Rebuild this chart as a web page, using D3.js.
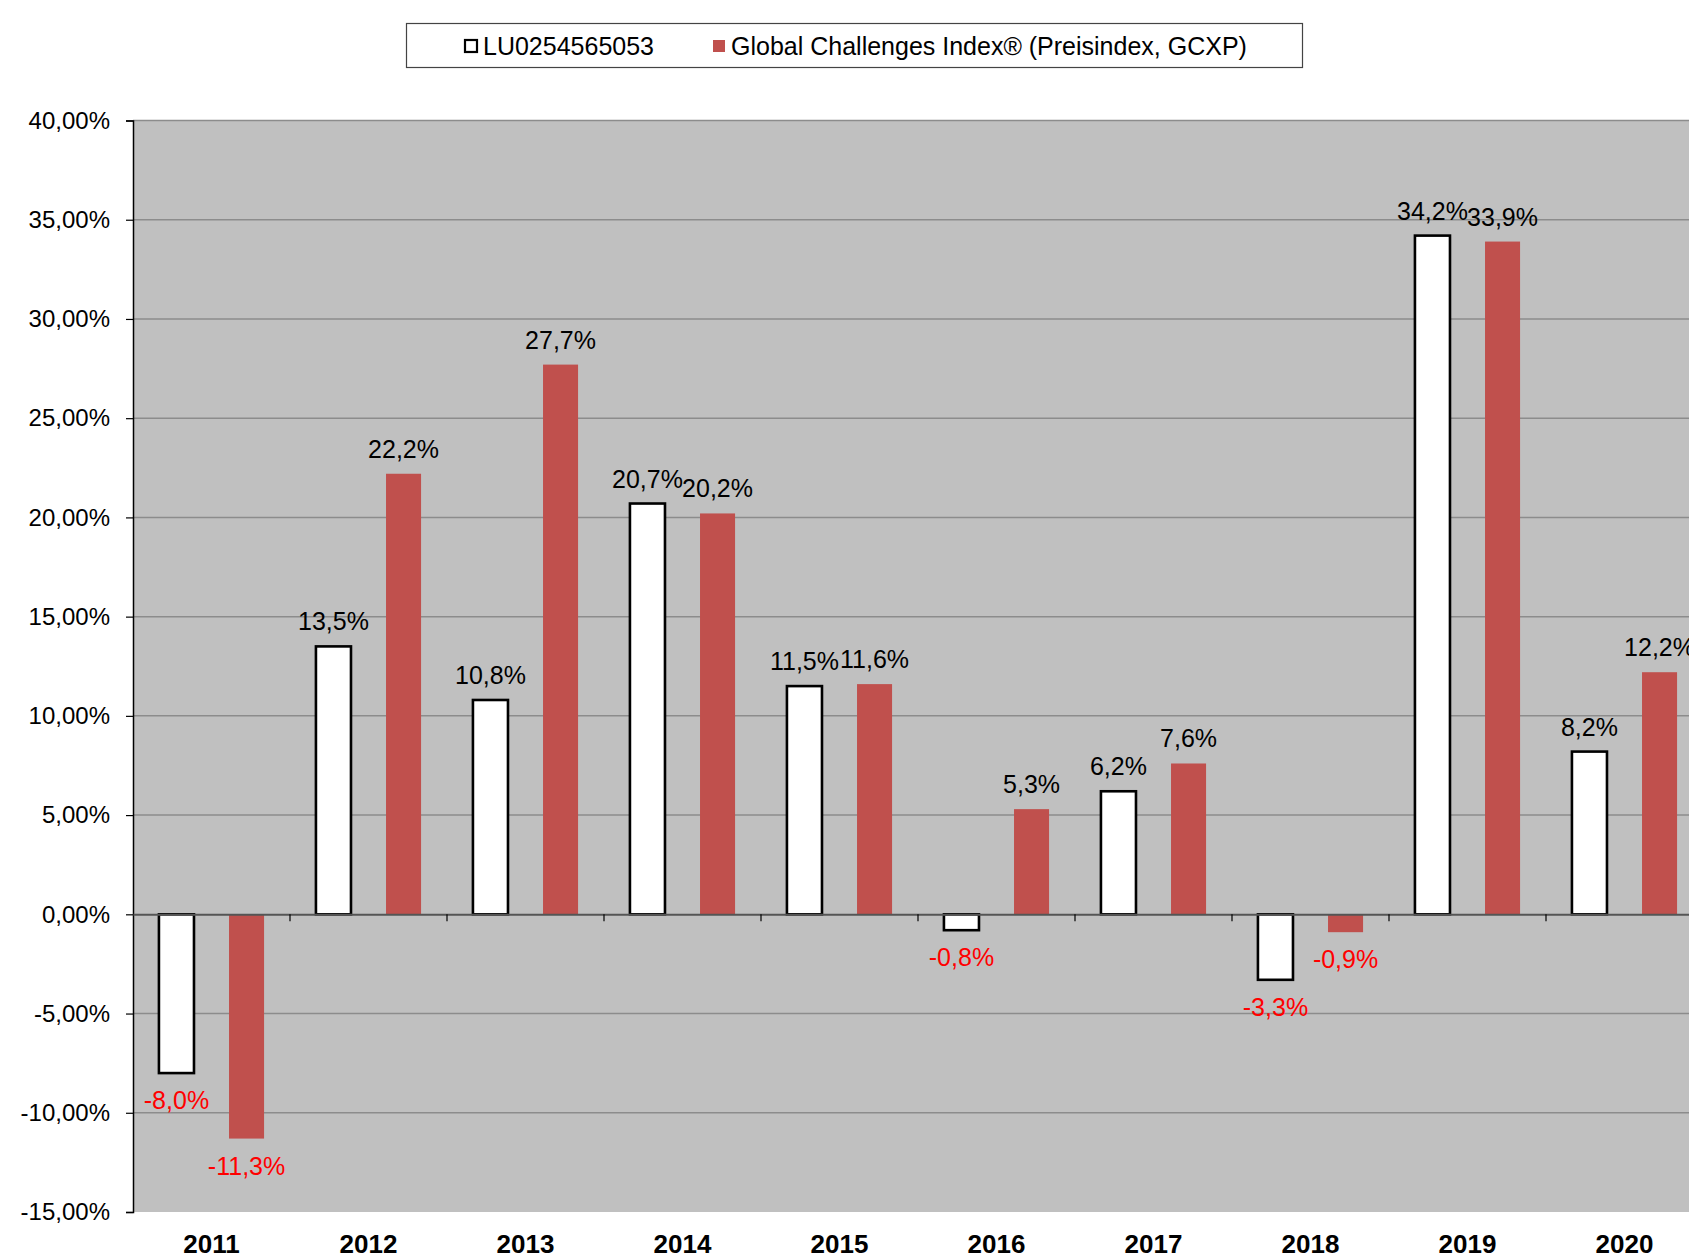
<!DOCTYPE html>
<html>
<head>
<meta charset="utf-8">
<script src="https://cdn.jsdelivr.net/npm/d3@7"></script>
<style>
  body { margin: 0; background: #fff; overflow: hidden; }
  text { font-family: Arial, "Liberation Sans", sans-serif; }
</style>
</head>
<body>
<div class="chart"></div>
<script>
const years = ['2011', '2012', '2013', '2014', '2015', '2016', '2017', '2018', '2019', '2020']
const seriesNames = ['LU0254565053', 'Global Challenges Index® (Preisindex, GCXP)']
const fundValues = [-8.0, 13.5, 10.8, 20.7, 11.5, -0.8, 6.2, -3.3, 34.2, 8.2]
const indexValues = [-11.3, 22.2, 27.7, 20.2, 11.6, 5.3, 7.6, -0.9, 33.9, 12.2]
const yTicks = [-15, -10, -5, 0, 5, 10, 15, 20, 25, 30, 35, 40]

const width = 1689
const height = 1258
const plot = { left: 133, top: 120.5, bottom: 1212, catWidth: 157 }

const svg = d3.select('.chart')
  .append('svg')
  .attr('width', width)
  .attr('height', height)

const x0 = d3.scaleBand()
  .domain(years)
  .range([plot.left, plot.left + years.length * plot.catWidth])

const x1 = d3.scaleBand()
  .domain([0, 1])
  .range([0, x0.bandwidth()])
  .paddingInner(0.5)
  .paddingOuter(0.37)

const y = d3.scaleLinear()
  .domain([-15, 40])
  .range([plot.bottom, plot.top])

const fmt = (v) => v.toFixed(1).replace('.', ',') + '%'
const fmtAxis = (v) => v.toFixed(2).replace('.', ',') + '%'

// plot area
svg.append('rect')
  .attr('x', plot.left)
  .attr('y', plot.top)
  .attr('width', x0.range()[1] - plot.left)
  .attr('height', plot.bottom - plot.top)
  .attr('fill', '#c0c0c0')

// gridlines
svg.append('g')
  .selectAll('line')
  .data(yTicks.filter((t) => t !== -15 && t !== 0))
  .enter()
  .append('line')
  .attr('x1', plot.left)
  .attr('x2', x0.range()[1])
  .attr('y1', (d) => y(d))
  .attr('y2', (d) => y(d))
  .attr('stroke', '#8c8c8c')
  .attr('stroke-width', 1.5)

// y axis
const yAxis = svg.append('g')
  .attr('transform', `translate(${plot.left},0)`)
  .call(d3.axisLeft(y).tickValues(yTicks).tickFormat(fmtAxis).tickSizeOuter(0).tickSize(7).tickPadding(16))
yAxis.select('.domain').attr('stroke', '#000').attr('stroke-width', 1.5)
yAxis.selectAll('.tick line').attr('stroke', '#000').attr('stroke-width', 1.2)
yAxis.selectAll('text')
  .attr('font-size', 24)
  .attr('fill', '#000')
  .style('font-family', 'Arial, "Liberation Sans", sans-serif')

// bars
const rows = years.map((yr, i) => ({ year: yr, values: [fundValues[i], indexValues[i]] }))

const groups = svg.append('g')
  .selectAll('g')
  .data(rows)
  .enter()
  .append('g')
  .attr('transform', (d) => `translate(${x0(d.year)},0)`)

// zero line with category ticks
const xAxis = svg.append('g')
  .attr('transform', `translate(0,${y(0)})`)
  .call(d3.axisBottom(x0).tickSize(0).tickFormat(''))
xAxis.select('.domain').attr('stroke', '#555').attr('stroke-width', 2)
svg.append('g')
  .selectAll('line')
  .data(years.slice(1))
  .enter()
  .append('line')
  .attr('x1', (d) => x0(d))
  .attr('x2', (d) => x0(d))
  .attr('y1', y(0))
  .attr('y2', y(0) + 7)
  .attr('stroke', '#000')
  .attr('stroke-width', 1.2)

groups.selectAll('rect')
  .data((d) => d.values.map((v, k) => ({ v: v, k: k })))
  .enter()
  .append('rect')
  .attr('x', (d) => x1(d.k))
  .attr('width', x1.bandwidth())
  .attr('y', (d) => y(Math.max(0, d.v)))
  .attr('height', (d) => Math.abs(y(d.v) - y(0)))
  .attr('fill', (d) => d.k === 0 ? '#fff' : '#c0504d')
  .attr('stroke', (d) => d.k === 0 ? '#000' : 'none')
  .attr('stroke-width', 2.6)

groups.selectAll('text')
  .data((d) => d.values.map((v, k) => ({ v: v, k: k })))
  .enter()
  .append('text')
  .attr('x', (d) => x1(d.k) + x1.bandwidth() / 2)
  .attr('y', (d) => d.v >= 0 ? y(d.v) - 16 : y(d.v) + 36)
  .attr('text-anchor', 'middle')
  .attr('font-size', 25)
  .attr('fill', (d) => d.v >= 0 ? '#000' : '#ff0000')
  .text((d) => fmt(d.v))

// year labels
svg.append('g')
  .selectAll('text')
  .data(years)
  .enter()
  .append('text')
  .attr('x', (d) => x0(d) + x0.bandwidth() / 2)
  .attr('y', 1253)
  .attr('text-anchor', 'middle')
  .attr('font-size', 26)
  .attr('font-weight', 'bold')
  .text((d) => d)

// legend
const legend = svg.append('g')
legend.append('rect')
  .attr('x', 406.5)
  .attr('y', 23.5)
  .attr('width', 896)
  .attr('height', 44)
  .attr('fill', '#fff')
  .attr('stroke', '#444')
  .attr('stroke-width', 1.2)

const legendItems = [
  { name: seriesNames[0], x: 465, fill: '#fff', stroke: '#000' },
  { name: seriesNames[1], x: 713, fill: '#c0504d', stroke: 'none' }
]
const li = legend.selectAll('.li')
  .data(legendItems)
  .enter()
  .append('g')
  .attr('class', 'li')
li.append('rect')
  .attr('x', (d) => d.x)
  .attr('y', 40)
  .attr('width', 12)
  .attr('height', 12)
  .attr('fill', (d) => d.fill)
  .attr('stroke', (d) => d.stroke)
  .attr('stroke-width', 2.2)
li.append('text')
  .attr('x', (d) => d.x + 18)
  .attr('y', 55)
  .attr('font-size', 25)
  .attr('fill', '#000')
  .text((d) => d.name)
</script>
</body>
</html>
